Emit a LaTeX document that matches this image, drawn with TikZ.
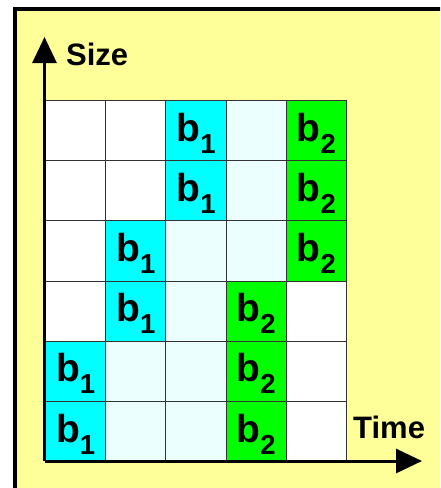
\documentclass[tikz,border=0pt]{standalone}
\usepackage{fontspec}
\setmainfont{Liberation Sans}
\usetikzlibrary{arrows.meta}
\definecolor{bgyellow}{HTML}{FFFF99}
\definecolor{blockcyan}{HTML}{00FFFF}
\definecolor{blockgreen}{HTML}{00FF00}
\definecolor{palecyan}{HTML}{EBFFFF}
\definecolor{gridgray}{HTML}{333333}
\newcommand\blabA{{\fontsize{39}{39}\selectfont b}\raisebox{-12pt}{\fontsize{27.5}{27.5}\selectfont 1}}
\newcommand\blabB{{\fontsize{39}{39}\selectfont b}\raisebox{-12pt}{\fontsize{27.5}{27.5}\selectfont 2}}
\begin{document}
\begin{tikzpicture}[x=1pt,y=-1pt,
  cell/.style={draw=gridgray, line width=1pt, minimum width=60.2pt, minimum height=60.17pt, inner sep=0pt, anchor=north west},
  emptycell/.style={cell, fill=white},
  freecell/.style={cell, fill=palecyan},
  blockA/.style={cell, fill=blockcyan},
  blockB/.style={cell, fill=blockgreen},
  celltext/.style={inner sep=0pt, font=\bfseries, yshift=-2.5pt},
  axislabel/.style={inner sep=0pt, anchor=base west, font=\bfseries\fontsize{31}{31}\selectfont},
  axis/.style={line width=3pt, -{Triangle[width=24pt,length=26pt]}}]
\useasboundingbox (0,0) rectangle (440,488);
\begin{scope}
\clip (0,0) rectangle (440,488);
\draw[line width=4pt, fill=bgyellow] (14.5,8.7) rectangle (460,510);
\end{scope}
\foreach \r/\c/\s/\t in {
 1/1/emptycell/, 1/2/emptycell/, 1/3/blockA/\blabA, 1/4/freecell/, 1/5/blockB/\blabB,
 2/1/emptycell/, 2/2/emptycell/, 2/3/blockA/\blabA, 2/4/freecell/, 2/5/blockB/\blabB,
 3/1/emptycell/, 3/2/blockA/\blabA, 3/3/freecell/, 3/4/freecell/, 3/5/blockB/\blabB,
 4/1/emptycell/, 4/2/blockA/\blabA, 4/3/freecell/, 4/4/blockB/\blabB, 4/5/emptycell/,
 5/1/blockA/\blabA, 5/2/freecell/, 5/3/freecell/, 5/4/blockB/\blabB, 5/5/emptycell/,
 6/1/blockA/\blabA, 6/2/freecell/, 6/3/freecell/, 6/4/blockB/\blabB, 6/5/emptycell/}
{
  \node[\s] (c-\r-\c) at ({45+(\c-1)*60.2},{100+(\r-1)*60.17}) {};
  \node[celltext] (t-\r-\c) at (c-\r-\c.center) {\t};
}
\coordinate (origin) at (44.5,461);
\coordinate (ytip) at (44.5,37);
\coordinate (xtip) at (422,461);
\draw[axis] (origin) -- (ytip);
\draw[axis] (origin) -- (xtip);
\node[axislabel] (size) at (66,65) {Size};
\node[axislabel] (time) at (353,438) {Time};
\end{tikzpicture}
\end{document}
